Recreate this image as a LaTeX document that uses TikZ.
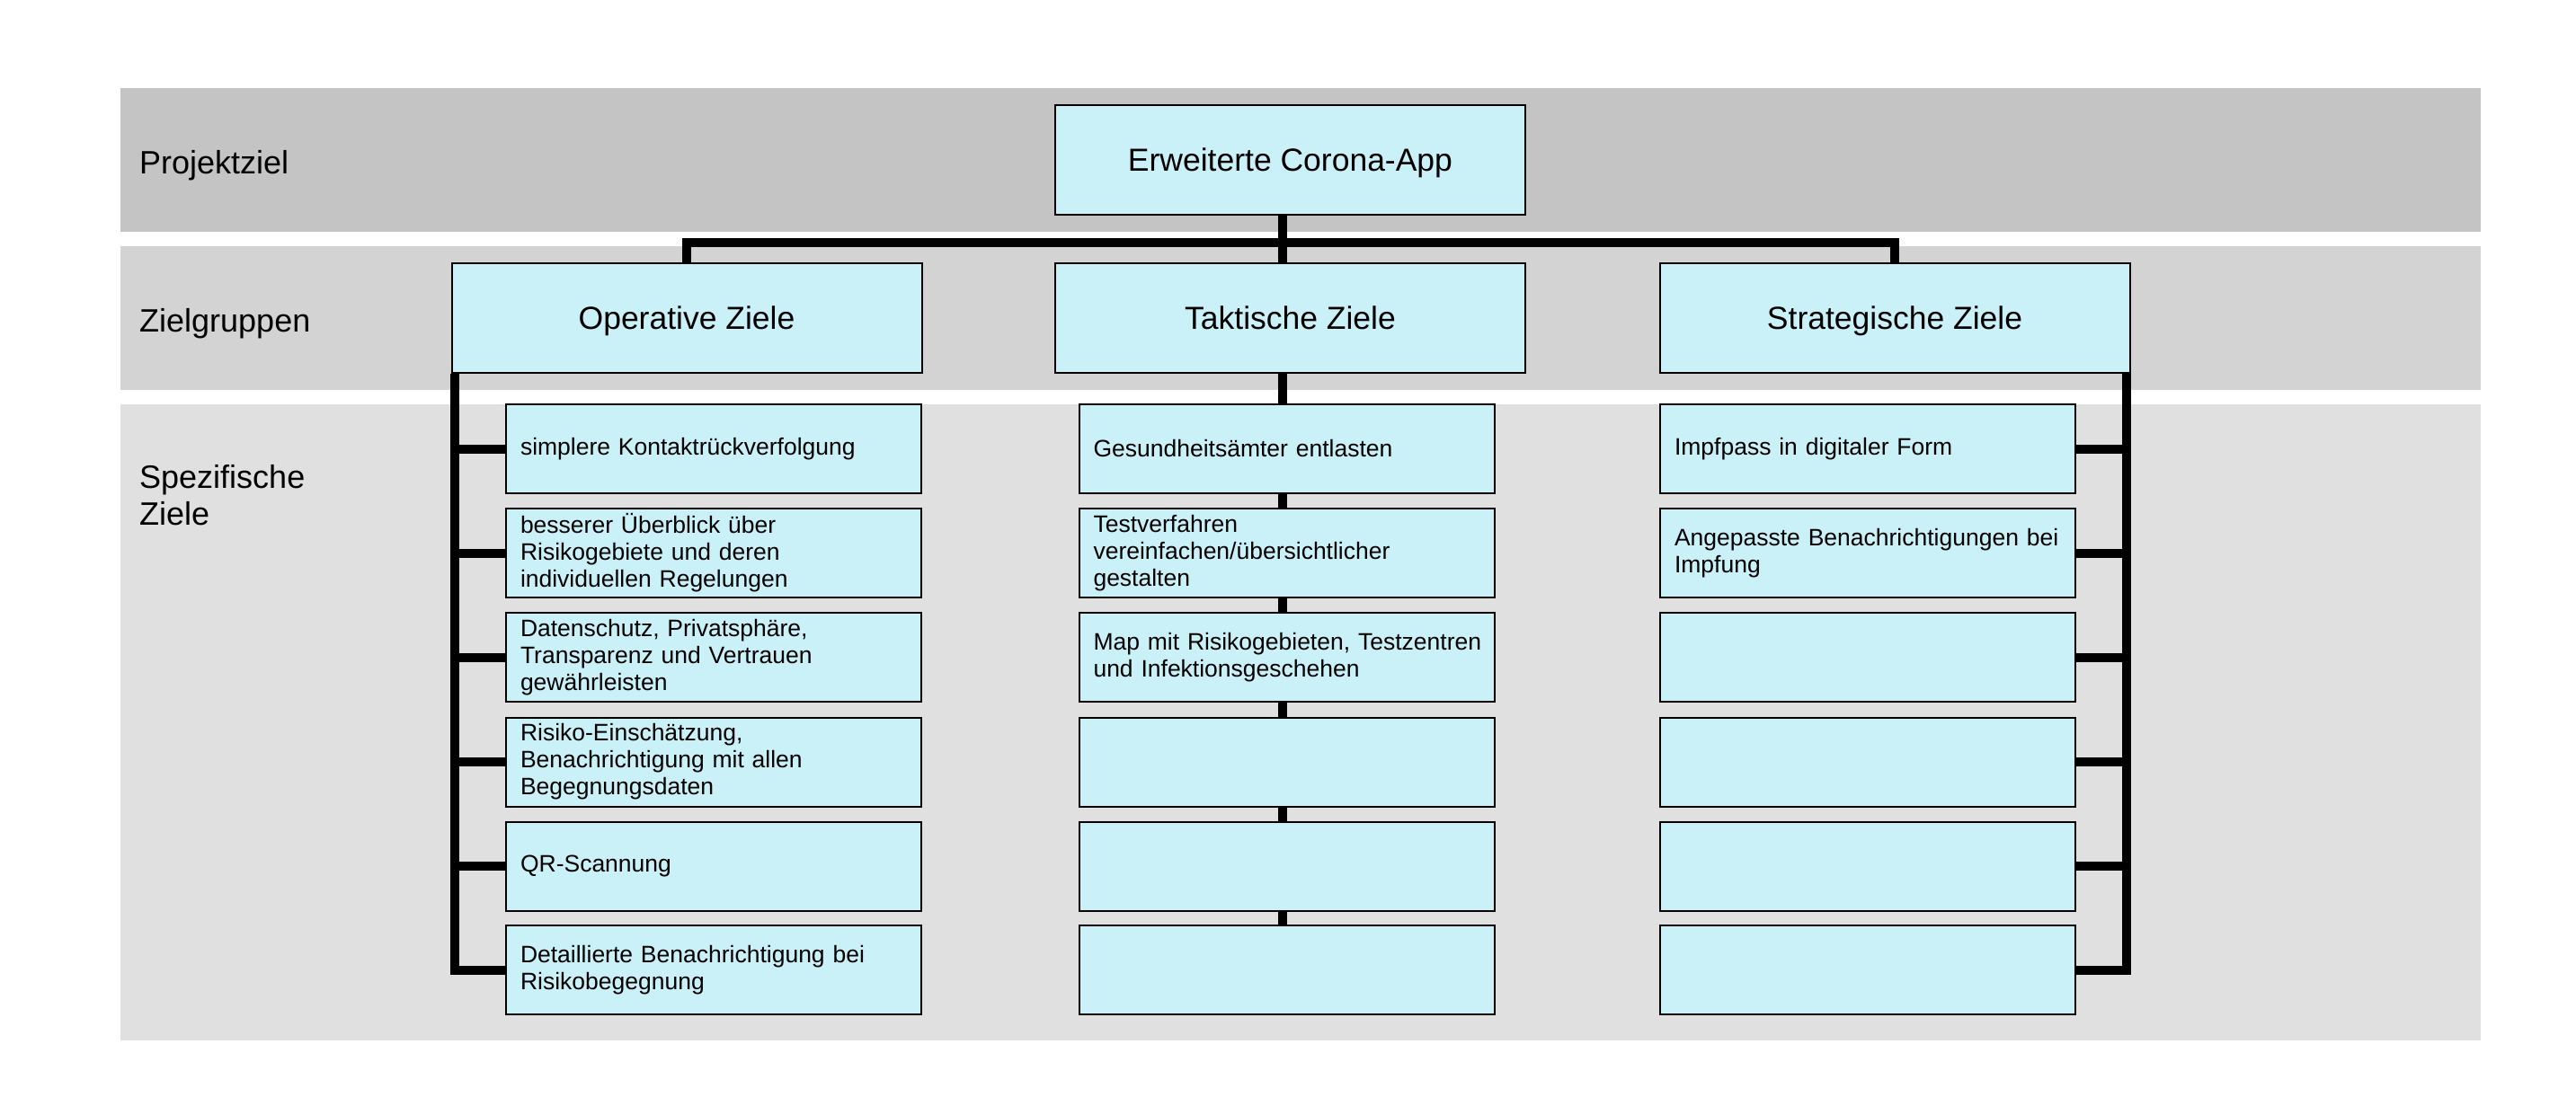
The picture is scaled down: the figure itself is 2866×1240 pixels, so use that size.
\documentclass[tikz,border=0pt]{standalone}
\usepackage{fontspec}
\setmainfont{Liberation Sans}
\usetikzlibrary{calc}
\pgfdeclarelayer{bands}
\pgfdeclarelayer{links}
\pgfsetlayers{bands,links,main}
\definecolor{bandA}{HTML}{C4C4C4}
\definecolor{bandB}{HTML}{D3D3D3}
\definecolor{bandC}{HTML}{E0E0E0}
\definecolor{boxfill}{HTML}{CAF0F8}
\begin{document}
\begin{tikzpicture}[x=1pt,y=-1pt,
  goal/.style={draw=black, line width=2pt, fill=boxfill, inner sep=0pt},
  hdrbox/.style={goal, minimum width=523, minimum height=122, text depth=0pt, font=\fontsize{35.5}{42}\selectfont},
  specbox/.style={goal, minimum width=462, minimum height=99, text width=430, inner xsep=16pt, align=left, font=\fontsize{26.5}{30}\selectfont},
  rowlabel/.style={font=\fontsize{36}{41}\selectfont, inner sep=0pt, align=left},
  conn/.style={line width=10pt, line join=miter, draw=black}
]
\useasboundingbox (0,0) rectangle (2866,1240);
\begin{pgfonlayer}{bands}
  \fill[white] (0,0) rectangle (2866,1240);
  \fill[bandA] (134,98) rectangle (2760,258);
  \fill[bandB] (134,274) rectangle (2760,434);
  \fill[bandC] (134,450) rectangle (2760,1158);
\end{pgfonlayer}

% row labels
\node[rowlabel, text depth=0pt, anchor=west] (lp) at (155,180) {Projektziel};
\node[rowlabel, text depth=0pt, anchor=west] (lz) at (155,356) {Zielgruppen};
\node[rowlabel, anchor=north west] (ls) at (155,517) {Spezifische\\Ziele};

% top and group boxes
\node[hdrbox] (root) at (1435.5,178) {Erweiterte Corona-App};
\node[hdrbox] (op)  at (764,354)    {Operative Ziele};
\node[hdrbox] (tak) at (1435.5,354) {Taktische Ziele};
\node[hdrbox] (str) at (2108,354)   {Strategische Ziele};

% operative column
\node[specbox] (o1) at (794,499.5) {simplere Kontaktrückverfolgung};
\node[specbox] (o2) at (794,615.5) {besserer Überblick über\\Risikogebiete und deren\\individuellen Regelungen};
\node[specbox] (o3) at (794,731.5) {Datenschutz, Privatsphäre,\\Transparenz und Vertrauen\\gewährleisten};
\node[specbox] (o4) at (794,848)   {Risiko-Einschätzung,\\Benachrichtigung mit allen\\Begegnungsdaten};
\node[specbox] (o5) at (794,964)   {QR-Scannung};
\node[specbox] (o6) at (794,1079.5) {Detaillierte Benachrichtigung bei\\Risikobegegnung};

% taktische column
\node[specbox] (t1) at (1431.5,499.5) {Gesundheitsämter entlasten};
\node[specbox] (t2) at (1431.5,615.5) {Testverfahren\\vereinfachen/übersichtlicher\\gestalten};
\node[specbox] (t3) at (1431.5,731.5) {\mbox{Map mit Risikogebieten, Testzentren}\\und Infektionsgeschehen};
\node[specbox] (t4) at (1431.5,848)   {};
\node[specbox] (t5) at (1431.5,964)   {};
\node[specbox] (t6) at (1431.5,1079.5) {};

% strategische column
\node[specbox] (s1) at (2078,499.5) {Impfpass in digitaler Form};
\node[specbox] (s2) at (2078,615.5) {Angepasste Benachrichtigungen bei\\Impfung};
\node[specbox] (s3) at (2078,731.5) {};
\node[specbox] (s4) at (2078,848)   {};
\node[specbox] (s5) at (2078,964)   {};
\node[specbox] (s6) at (2078,1079.5) {};

\coordinate (bus) at (0,270);
\coordinate (msp) at (1427,0);
\coordinate (lsp) at ([xshift=4pt]op.south west);
\coordinate (rsp) at ([xshift=-5pt]str.south east);

\begin{pgfonlayer}{links}
  \draw[conn] (root.south -| msp) -- (t6.north -| msp);
  \draw[conn] (op.north) -- (op.north |- bus) -- (str.north |- bus) -- (str.north);
  \draw[conn] (lsp) |- (o6.west);
  \foreach \i in {1,...,5} \draw[conn] (lsp |- o\i.west) -- (o\i.west);
  \draw[conn] (rsp) |- (s6.east);
  \foreach \i in {1,...,5} \draw[conn] (rsp |- s\i.east) -- (s\i.east);
\end{pgfonlayer}
\end{tikzpicture}
\end{document}
